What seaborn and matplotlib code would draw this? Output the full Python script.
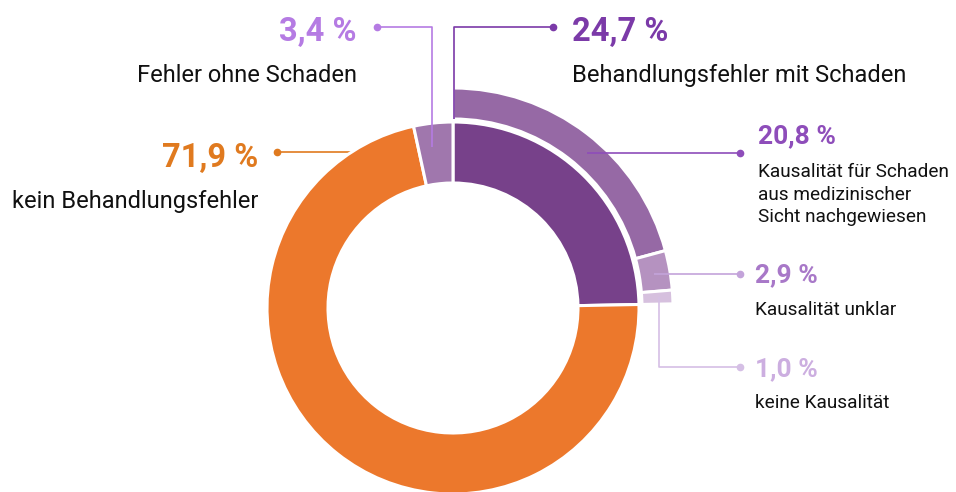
import matplotlib
matplotlib.use("Agg")
import matplotlib.pyplot as plt
import seaborn as sns

# ---- data ----
main_labels = ["Behandlungsfehler mit Schaden", "kein Behandlungsfehler", "Fehler ohne Schaden"]
main_values = [24.7, 71.9, 3.4]
main_texts = ["24,7 %", "71,9 %", "3,4 %"]

sub_labels = ["Kausalität für Schaden\naus medizinischer\nSicht nachgewiesen",
              "Kausalität unklar", "keine Kausalität"]
sub_values = [20.8, 2.9, 1.0]
sub_texts = ["20,8 %", "2,9 %", "1,0 %"]

# ---- style ----
sns.set_theme(style="white")
plt.rcParams['font.family'] = ['Roboto', 'DejaVu Sans']

main_colors = ["#77418A", "#EC782C", "#A077AD"]
sub_colors = ["#9669A5", "#B592C0", "#D6C0DE"]
num_colors_main = ["#7B3AA8", "#E07A1F", "#B57BE3"]
num_colors_sub = ["#8E4DBA", "#A878C8", "#CCAEE0"]
line_colors_main = ["#7B3AA8", "#E07A1F", "#B57BE3"]
line_colors_sub = ["#8E4DBA", "#C3A3DA", "#D5BFE5"]

W, H = 956, 492
fig = plt.figure(figsize=(W / 100, H / 100), dpi=100)
ax = fig.add_axes([0, 0, 1, 1])

def Y(py):
    return H - py

cx, cy = 453, Y(308)

# main ring
ax.pie(main_values, colors=main_colors, startangle=90, counterclock=False,
       radius=186, center=(cx, cy), frame=True,
       wedgeprops=dict(width=61, edgecolor="white", linewidth=2.2, zorder=2))

# outer ring (breakdown of "mit Schaden")
rest = 100 - main_values[0]
wedges, _ = ax.pie(sub_values + [rest], colors=sub_colors + ["none"], startangle=90,
                   counterclock=False, radius=220, center=(cx, cy), frame=True,
                   wedgeprops=dict(width=31, edgecolor="white", linewidth=2.2, zorder=2))
wedges[-1].set_visible(False)

ax.set_xlim(0, W)
ax.set_ylim(0, H)
ax.set_aspect("equal")
ax.axis("off")

def leader(pts, color, z):
    xs = [p[0] for p in pts]
    ys = [Y(p[1]) for p in pts]
    ax.plot(xs, ys, color=color, lw=1.2, zorder=z, solid_capstyle="butt")
    ax.plot([xs[0]], [ys[0]], "o", color=color, ms=4.5, zorder=z)

# leader lines (pixel layout)
leader([(553, 27), (454, 27), (454, 119)], line_colors_main[0], 5)
leader([(277, 152), (356, 152)], line_colors_main[1], 1)
leader([(377, 27), (432, 27), (432, 147)], line_colors_main[2], 5)
leader([(740, 153), (587, 153)], line_colors_sub[0], 5)
leader([(740, 274), (654, 274)], line_colors_sub[1], 5)
leader([(740, 367), (659, 367), (659, 297)], line_colors_sub[2], 5)

def label(x, base, num, txt, ncol, ha, nsize, tsize, tbase, lstep):
    ax.text(x, Y(base), num, color=ncol, fontsize=nsize, fontweight="bold",
            ha=ha, va="baseline")
    for i, line in enumerate(txt.split("\n")):
        ax.text(x, Y(tbase + i * lstep), line, color="#111111", fontsize=tsize,
                ha=ha, va="baseline")

# main labels
label(572, 41, main_texts[0], main_labels[0], num_colors_main[0], "left", 23.5, 17, 82, 0)
label(258, 167, main_texts[1], main_labels[1], num_colors_main[1], "right", 23.5, 17, 208, 0)
label(357, 41, main_texts[2], main_labels[2], num_colors_main[2], "right", 23.5, 17, 82, 0)

# sub labels
label(758, 143, sub_texts[0], sub_labels[0], num_colors_sub[0], "left", 19, 13.7, 177, 22.5)
label(755, 282, sub_texts[1], sub_labels[1], num_colors_sub[1], "left", 19, 13.7, 315, 0)
label(755, 376, sub_texts[2], sub_labels[2], num_colors_sub[2], "left", 19, 13.7, 408, 0)

fig.savefig("out.png", dpi=100, facecolor="white")
